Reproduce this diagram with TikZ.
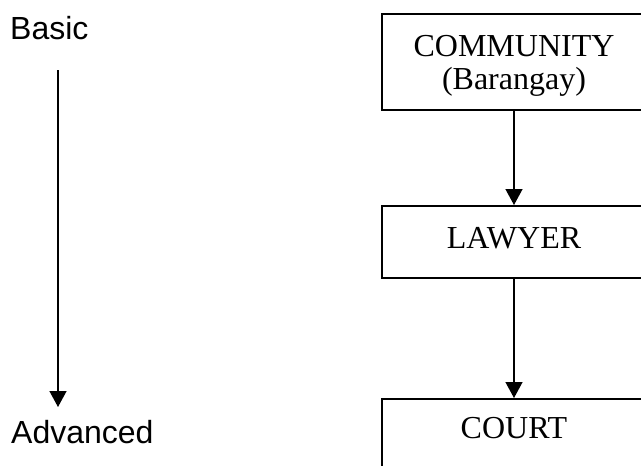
\documentclass[tikz,border=0pt]{standalone}
\usepackage{fontspec}
\setmainfont{Liberation Serif}
\newfontfamily\sanslbl{Liberation Sans}
\newfontfamily\seriflbl{Liberation Serif}
\usetikzlibrary{arrows.meta}
\begin{document}
\begin{tikzpicture}[x=1pt,y=-1pt,
  levelbox/.style={draw, line width=2pt, inner sep=0pt, minimum width=264pt,
    font=\seriflbl\fontsize{32}{33}\selectfont, align=center},
  sidelabel/.style={inner sep=0pt, font=\sanslbl\fontsize{32}{34}\selectfont},
  flow/.style={line width=1.4pt, -{Triangle[width=17pt,length=16pt]}}]
\useasboundingbox (0,0) rectangle (641,466);
\clip (0,0) rectangle (641,466);
% left scale
\node[sidelabel, anchor=base west] (basic) at (10,39.5) {Basic};
\node[sidelabel, anchor=base west] (advanced) at (11,443) {Advanced};
\coordinate (ltop) at (58,70);
\coordinate (lbot) at (58,407);
\draw[flow] (ltop) -- (lbot);
% boxes
\node[levelbox, anchor=north, minimum height=96pt] (community) at (514,13)
  {\rule{0pt}{28pt}COMMUNITY\\(Barangay)};
\node[levelbox, anchor=north, minimum height=72pt, text height=21pt, text depth=8pt] (lawyer) at (514,205) {LAWYER};
\node[levelbox, anchor=north, text height=39pt, text depth=80pt] (court) at (514,398) {COURT};
\draw[flow] (community.south) -- (lawyer.north);
\draw[flow] (lawyer.south) -- (court.north);
\end{tikzpicture}
\end{document}
